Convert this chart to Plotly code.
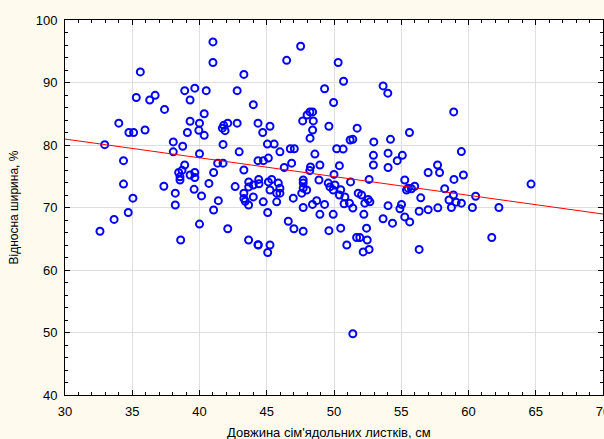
import plotly.graph_objects as go

# Cotyledon length (cm) and relative width (%)
x_len = [
    41.0, 41.0, 35.6, 43.3, 38.9, 39.65, 40.5, 42.8, 35.3, 36.3, 36.7, 39.3, 37.4, 44.0, 40.35,
    34.0, 34.75, 35.1, 35.95, 39.3, 40.0, 41.8, 42.1, 42.8, 44.35, 41.7, 41.9, 39.95, 39.1, 40.35,
    44.7, 32.95, 38.05, 38.75, 41.75,
    38.05, 40.0, 42.95, 34.35, 41.35, 41.75, 38.9, 38.45, 38.7, 38.55, 38.55, 39.3, 39.65, 39.65,
    41.05, 43.3, 34.35, 37.35, 40.7, 39.6, 42.65, 38.2, 40.15, 35.05, 41.4, 38.2, 41.05, 34.7,
    33.65, 40.0, 42.1, 32.6, 38.6, 43.65, 44.35,
    43.3, 43.3, 43.4, 43.65, 43.66, 43.66, 44.0, 44.4, 44.42, 44.0, 44.35,
    45.05, 45.55, 46.75, 47.05, 48.22, 45.98, 48.58, 50.2, 50.68, 44.75, 45.12, 46.3, 46.85, 48.25,
    48.2, 48.95, 50.0, 50.4, 45.12, 45.37, 45.24, 45.86, 45.98, 45.74, 45.98, 44.74, 45.74, 46.97,
    47.71, 47.71, 47.71, 47.6, 47.97, 47.71, 48.4, 48.71, 49.3, 48.88, 49.57, 49.7, 49.94, 50.07,
    50.5, 50.4, 50.81, 50.75, 51.2, 51.4,
    45.07, 48.95, 49.94, 46.6, 47.02, 47.71, 49.62, 50.5, 44.37, 45.24, 45.07, 50.95,
    52.93, 52.93, 54.02, 54.02, 55.08, 54.7, 57.7, 57.0, 57.85, 52.61, 51.23, 55.26, 55.51, 56.0,
    55.76, 55.39, 51.8, 52.05, 52.54, 52.29, 52.67, 51.15, 51.4, 54.02, 54.9, 55.02, 56.45, 56.33,
    57.0, 57.72, 52.22, 53.65, 54.35, 55.26, 55.63, 52.42, 51.68, 51.92, 52.47, 52.17, 52.61, 56.33,
    59.47, 58.9, 58.92, 59.62, 58.23, 58.88, 58.55, 59.08, 59.47, 60.53, 58.73, 60.29, 62.26, 64.65,
    61.73,
    47.52, 46.48, 50.31, 50.71, 49.3, 53.65, 54.0, 49.97, 48.21, 48.41, 48.0, 47.67, 48.46, 45.24,
    48.41, 49.62, 51.72, 55.61, 52.96, 54.2,
    51.4,
]
y_width = [
    96.5, 93.2, 91.7, 91.3, 88.7, 89.1, 88.7, 88.7, 87.6, 87.2, 87.95, 87.2, 85.7, 86.45, 85.0,
    83.5, 82.0, 82.0, 82.4, 83.8, 83.5, 83.15, 83.5, 83.5, 83.5, 82.7, 82.3, 82.35, 82.0, 81.55,
    82.0, 80.05, 80.5, 79.8, 80.1,
    78.9, 78.6, 78.9, 77.5, 77.1, 77.1, 76.8, 75.6, 75.95, 74.9, 74.4, 75.2, 75.6, 74.8,
    75.6, 76.0, 73.75, 73.4, 73.85, 72.9, 73.35, 72.3, 71.85, 71.5, 71.1, 70.4, 69.6, 69.2,
    68.1, 67.35, 66.6, 66.2, 64.8, 64.8, 64.05,
    72.3, 71.45, 71.0, 70.4, 74.1, 73.3, 73.6, 74.5, 73.8, 71.7, 77.5,
    80.15, 80.15, 79.4, 79.4, 81.1, 78.9, 78.55, 79.4, 79.35, 77.5, 77.9, 76.4, 77.1, 76.5,
    75.9, 76.8, 75.3, 76.7, 74.1, 74.5, 72.8, 73.9, 73.1, 72.3, 72.3, 70.9, 70.9, 71.5,
    74.4, 73.9, 73.1, 72.3, 72.8, 70.0, 70.5, 71.1, 70.5, 74.4, 73.9, 73.3, 72.8, 73.6,
    72.85, 72.0, 71.7, 70.6, 80.8, 80.9,
    69.2, 68.9, 68.9, 67.8, 66.6, 66.2, 66.3, 66.7, 64.0, 64.0, 62.8, 64.0,
    78.35, 76.8, 78.7, 76.4, 78.35, 77.5, 76.8, 75.6, 75.6, 74.5, 74.1, 74.4, 73.1, 73.4,
    73.0, 72.8, 72.3, 72.0, 71.3, 70.7, 70.9, 70.7, 69.9, 70.3, 69.8, 70.5, 71.55, 69.4,
    69.65, 69.95, 68.9, 68.2, 67.5, 68.5, 67.7, 66.7, 65.2, 65.2, 64.8, 62.9, 63.3, 63.3,
    78.95, 85.3, 74.5, 75.2, 73.0, 72.0, 71.2, 70.85, 70.7, 71.8, 70.0, 70.0, 70.0, 73.75,
    65.2,
    95.8, 93.55, 93.2, 90.2, 89.0, 89.45, 88.3, 86.8, 85.3, 85.3, 84.8, 83.85, 83.85, 83.0,
    82.4, 83.0, 82.7, 82.0, 80.5, 80.9,
    49.8,
]

# Regression line: width = intercept + slope * length
fit_intercept = 89.95
fit_slope = -0.30
x_range = [30, 70]
y_range = [40, 100]

x_title = "Довжина сім'ядольних листків, см"
y_title = "Відносна ширина, %"

fit_y = [fit_intercept + fit_slope * v for v in x_range]

BG = "#fffaee"

fig = go.Figure()
fig.add_trace(go.Scatter(
    x=x_len, y=y_width, mode="markers",
    marker=dict(symbol="circle-open", size=7, color="#0000ff",
                line=dict(width=2, color="#0000ff")),
    showlegend=False,
))
fig.add_trace(go.Scatter(
    x=x_range, y=fit_y, mode="lines",
    line=dict(color="#ff0000", width=1),
    showlegend=False,
))

axis_common = dict(
    showline=True, linecolor="black", linewidth=1, mirror="ticks",
    ticks="inside", ticklen=5, tickcolor="black", tickwidth=1,
    showgrid=True, gridcolor="#dedede", gridwidth=1, zeroline=False,
    tickfont=dict(family="Liberation Sans, Arial, sans-serif", size=13, color="black"),
    automargin=False, ticklabelstandoff=4, ticklabeloverflow="allow",
)

fig.update_xaxes(
    range=x_range, dtick=5, tick0=30,
    minor=dict(ticks="inside", ticklen=3, dtick=1, tickcolor="black", showgrid=False),
    **axis_common,
)
fig.update_yaxes(
    range=y_range, dtick=10, tick0=40,
    minor=dict(ticks="inside", ticklen=3, dtick=2, tickcolor="black", showgrid=False),
    **axis_common,
)

fig.update_layout(
    width=604, height=439,
    margin=dict(l=65, r=1, t=20, b=44),
    paper_bgcolor=BG, plot_bgcolor="white",
    font=dict(family="Liberation Sans, Arial, sans-serif", color="black"),
    annotations=[
        dict(text=x_title, xref="paper", yref="paper", x=0.491, y=-0.0987,
             xanchor="center", yanchor="middle", showarrow=False,
             font=dict(size=13, color="black")),
        dict(text=y_title, xref="paper", yref="paper", x=-0.0948, y=0.5,
             xanchor="center", yanchor="middle", textangle=-90, showarrow=False,
             font=dict(size=12, color="black")),
    ],
)

fig.write_html(
    "out.html",
    config={"displayModeBar": False},
    post_script=f"document.body.style.margin='0';document.body.style.background='{BG}';",
)
